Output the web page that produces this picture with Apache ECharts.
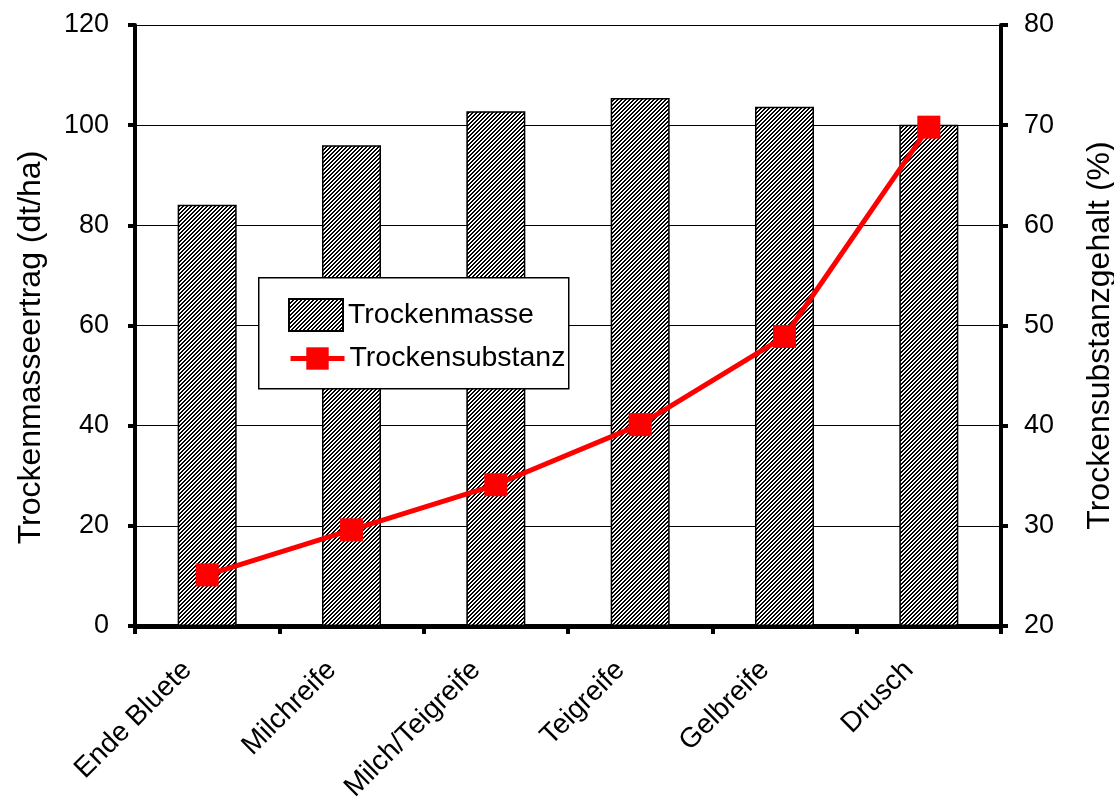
<!DOCTYPE html>
<html>
<head>
<meta charset="utf-8">
<script src="https://cdn.jsdelivr.net/npm/echarts@6/dist/echarts.min.js"></script>
<style>
html,body{margin:0;padding:0;background:#fff;}
#chart{width:1114px;height:802px;}
</style>
</head>
<body>
<div id="chart"></div>
<script>
const categories = ['Ende Bluete', 'Milchreife', 'Milch/Teigreife', 'Teigreife', 'Gelbreife', 'Drusch'];
const trockenmasse = [84.1, 96.0, 102.8, 105.4, 103.7, 100.1];
const trockensubstanz = [25.1, 29.6, 34.1, 40.1, 48.9, 69.8];
const leftTicks = [0, 20, 40, 60, 80, 100, 120];
const rightTicks = [20, 30, 40, 50, 60, 70, 80];

function hatch() {
  const c = document.createElement('canvas');
  c.width = 4; c.height = 4;
  const ctx = c.getContext('2d');
  ctx.fillStyle = '#ffffff';
  ctx.fillRect(0, 0, 4, 4);
  ctx.fillStyle = '#000000';
  for (let y = 0; y < 4; y++) {
    for (let x = 0; x < 4; x++) {
      const m = (x + y) % 4;
      if (m === 0 || m === 1) ctx.fillRect(x, y, 1, 1);
    }
  }
  return c;
}
const pattern = { image: hatch(), repeat: 'repeat' };
const FONT = 'Liberation Sans, Arial, sans-serif';

const chart = echarts.init(document.getElementById('chart'), null, { renderer: 'canvas' });
chart.setOption({
  animation: false,
  backgroundColor: '#ffffff',
  textStyle: { fontFamily: FONT, color: '#000' },
  grid: { left: 135, right: 113, top: 25, bottom: 176, containLabel: false, outerBoundsMode: 'none' },
  graphic: [{
    type: 'rect', z: 3, left: 258, top: 277,
    shape: { width: 310, height: 111 },
    style: { fill: '#ffffff', stroke: '#000000', lineWidth: 1.5 }
  }],
  legend: [{
    z: 4, left: 288, top: 298, padding: 0, orient: 'vertical',
    itemWidth: 54, itemHeight: 32, itemGap: 6,
    icon: 'rect',
    data: ['Trockenmasse'],
    textStyle: { fontFamily: FONT, fontSize: 28.5, color: '#000' }
  }, {
    z: 4, left: 288, top: 344, padding: 0, orient: 'vertical',
    itemWidth: 54, itemHeight: 28, itemGap: 6,
    data: ['Trockensubstanz'],
    lineStyle: { width: 5, color: '#ff0000' },
    textStyle: { fontFamily: FONT, fontSize: 28.5, color: '#000' }
  }],
  xAxis: {
    type: 'category', data: categories, boundaryGap: true,
    axisLine: { lineStyle: { color: '#000', width: 5 } },
    axisTick: { show: true, length: 8, lineStyle: { color: '#000', width: 4 } },
    axisLabel: { rotate: 45, margin: 20, padding: [0, 28, 0, 0], fontSize: 28, fontFamily: FONT, color: '#000', interval: 0 }
  },
  yAxis: [{
    type: 'value', min: leftTicks[0], max: leftTicks[leftTicks.length - 1], interval: 20,
    name: 'Trockenmasseertrag (dt/ha)', nameLocation: 'middle', nameGap: 88, nameRotate: 90,
    nameTextStyle: { fontFamily: FONT, fontSize: 32, color: '#000', padding: [0, 44, 0, 0] },
    axisLine: { show: true, lineStyle: { color: '#000', width: 4 } },
    axisTick: { show: true, length: 7, lineStyle: { color: '#000', width: 4 } },
    axisLabel: { margin: 26, fontSize: 27, fontFamily: FONT, color: '#000' },
    splitLine: { show: true, lineStyle: { color: '#000', width: 1 } }
  }, {
    type: 'value', position: 'right', min: rightTicks[0], max: rightTicks[rightTicks.length - 1], interval: 10,
    name: 'Trockensubstanzgehalt (%)', nameLocation: 'middle', nameGap: 83, nameRotate: 90,
    nameTextStyle: { fontFamily: FONT, fontSize: 32, color: '#000', padding: [0, 20, 0, 0] },
    axisLine: { show: true, lineStyle: { color: '#000', width: 4 } },
    axisTick: { show: true, length: 7, lineStyle: { color: '#000', width: 4 } },
    axisLabel: { margin: 23, fontSize: 27, fontFamily: FONT, color: '#000' },
    splitLine: { show: false }
  }],
  series: [{
    name: 'Trockenmasse', type: 'bar', yAxisIndex: 0, data: trockenmasse,
    barWidth: 59, z: 2,
    itemStyle: { color: pattern, borderColor: '#000', borderWidth: 1.5 }
  }, {
    name: 'Trockensubstanz', type: 'line', yAxisIndex: 1, data: trockensubstanz,
    z: 5, symbol: 'rect', symbolSize: 23,
    lineStyle: { color: '#ff0000', width: 5 },
    itemStyle: { color: '#ff0000' }
  }]
});
</script>
</body>
</html>
